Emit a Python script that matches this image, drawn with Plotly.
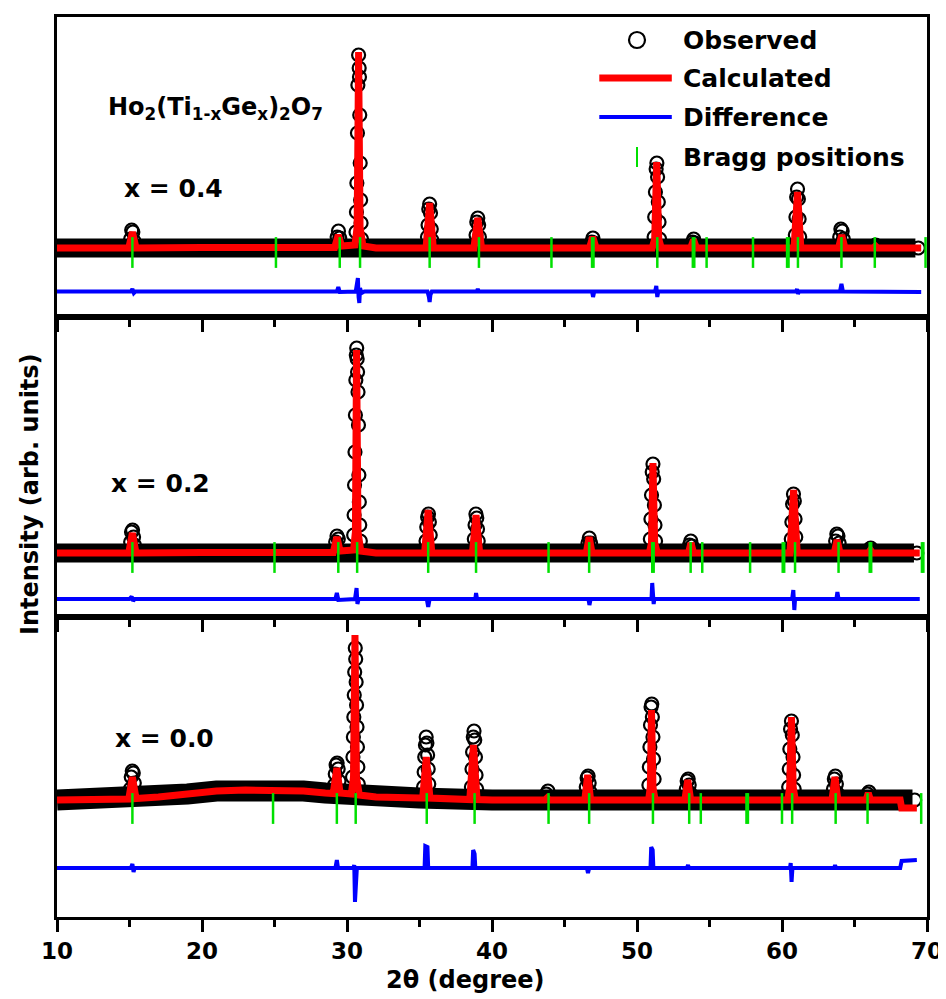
import plotly.graph_objects as go
from plotly.subplots import make_subplots

FONT = "DejaVu Sans"
SAMPLE_LABELS = ["x = 0.4", "x = 0.2", "x = 0.0"]
FORMULA = "Ho<sub>2</sub>(Ti<sub>1-x</sub>Ge<sub>x</sub>)<sub>2</sub>O<sub>7</sub>"
X_TICKS = [10, 20, 30, 40, 50, 60, 70]

# ---------------- x = 0.4 (top panel) ----------------
BG_X_04 = [10, 20, 25, 29, 32, 40, 50, 60, 69.2]
BG_Y_04 = [69, 69.5, 70, 69.5, 69, 69, 69, 69, 69]
OBS_X_04 = [15.08, 15.15, 15.23, 15.31,
            29.32, 29.41, 29.50,
            30.62, 30.65, 30.68, 30.72, 30.75, 30.80, 30.84, 30.86, 30.88, 30.91, 30.94, 30.97, 31.00,
            35.55, 35.59, 35.64, 35.70, 35.76, 35.81, 35.85,
            38.90, 38.95, 39.02, 39.08, 39.13,
            46.88, 46.96, 47.05,
            51.18, 51.22, 51.27, 51.32, 51.37, 51.42, 51.47, 51.52, 51.56,
            53.83, 53.91, 53.99,
            60.92, 60.96, 61.01, 61.07, 61.13, 61.18, 61.22,
            63.98, 64.06, 64.15, 64.23,
            66.45,
            69.40]
OBS_Y_04 = [78, 87, 85, 76,
            80, 86, 79,
            85, 105, 134, 184, 232, 262, 249, 240, 202, 154, 117, 94, 78,
            80, 92, 108, 113, 104, 88, 77,
            82, 95, 99, 92, 80,
            75, 79, 74,
            80, 100, 125, 148, 154, 140, 115, 95, 78,
            75, 78, 74,
            82, 100, 120, 128, 118, 98, 80,
            80, 88, 86, 78,
            72,
            69]
CALC_X_04 = [10, 14.95, 15.2, 15.45, 20, 25, 29.15, 29.4, 29.62, 30.55, 30.7, 30.8, 30.9, 31.1, 32,
             35.45, 35.7, 35.95, 38.75, 39.02, 39.28, 46.72, 46.95, 47.18,
             51.05, 51.22, 51.36, 51.5, 51.67, 53.7, 53.9, 54.1,
             60.83, 61.07, 61.3, 63.9, 64.12, 64.34, 66.3, 66.45, 66.6, 69.6]
CALC_Y_04 = [69, 69, 85, 69, 69.5, 70, 69.5, 82, 71, 72, 90, 265, 90, 71, 69,
             69, 114, 69, 69, 99, 69, 69, 80, 69,
             69, 78, 155, 78, 69, 69, 77, 69,
             69, 125, 69, 69, 82, 69, 69, 71, 69, 69]
DIFF_X_04 = [10, 15.1, 15.2, 15.3, 15.4, 29.3, 29.4, 29.5, 30.6, 30.7, 30.75, 30.8, 30.85, 30.9, 31.0, 31.2,
             35.55, 35.65, 35.7, 35.75, 35.85, 38.95, 39.02, 39.1, 46.9, 46.97, 47.05,
             51.25, 51.33, 51.4, 51.47, 60.98, 61.04, 61.1, 61.16, 64.0, 64.1, 64.2, 69.6]
DIFF_Y_04 = [25.5, 25.5, 28, 24, 25.5, 25.5, 30, 25, 25.5, 33, 39, 20, 14, 29, 24, 25.5,
             25.5, 20, 15, 22, 25.5, 25.5, 28, 25.5, 25.5, 20, 25.5,
             25.5, 31, 20, 25.5, 25.5, 28, 23, 25.5, 25.5, 33, 25.5, 25]
BRAGG_04 = [15.2, 25.1, 29.5, 30.9, 35.7, 39.1, 44.1, 46.9, 47.0, 51.4, 53.85, 53.95, 54.8,
            58.0, 60.35, 60.45, 61.1, 64.1, 66.4, 69.9]

# ---------------- x = 0.2 (middle panel) ----------------
BG_X_02 = [10, 20, 25, 29, 32, 40, 50, 60, 69.1]
BG_Y_02 = [64, 64.5, 65, 64.5, 64, 64, 64, 64, 64]
OBS_X_02 = [15.08, 15.14, 15.21, 15.28, 15.34,
            29.22, 29.31, 29.40,
            30.46, 30.49, 30.52, 30.55, 30.58, 30.61, 30.64, 30.67, 30.70, 30.73, 30.76, 30.79,
            30.82, 30.85, 30.88, 30.92,
            35.45, 35.50, 35.56, 35.62, 35.68, 35.74,
            38.78, 38.83, 38.89, 38.95, 39.00, 39.05,
            46.62, 46.71, 46.80,
            50.92, 50.96, 51.00, 51.05, 51.10, 51.15, 51.20, 51.24, 51.28,
            53.62, 53.71, 53.80,
            60.64, 60.68, 60.73, 60.79, 60.85, 60.90, 60.95,
            63.70, 63.78, 63.86, 63.94,
            66.05, 66.12,
            69.30]
OBS_Y_02 = [75, 85, 87, 80, 72,
            75, 81, 78,
            82, 102, 132, 165, 202, 237, 262, 269, 258, 245, 225, 192,
            142, 115, 92, 76,
            76, 90, 100, 103, 95, 82,
            78, 92, 103, 99, 88, 76,
            74, 79, 74,
            78, 98, 122, 145, 153, 138, 112, 92, 76,
            72, 76, 71,
            78, 95, 113, 123, 116, 98, 80,
            76, 83, 81, 74,
            68, 69,
            64]
CALC_X_02 = [10, 14.95, 15.2, 15.45, 20, 25, 29.05, 29.3, 29.52, 30.45, 30.58, 30.66, 30.76, 30.95, 32,
             35.35, 35.6, 35.85, 38.65, 38.9, 39.15, 46.5, 46.7, 46.9,
             50.85, 51.0, 51.1, 51.22, 51.4, 53.55, 53.72, 53.9,
             60.55, 60.8, 61.05, 63.6, 63.8, 64.0, 65.95, 66.1, 66.25, 69.5]
CALC_Y_02 = [64, 64, 84, 64, 64.5, 65, 64.5, 80, 66, 67, 85, 267, 85, 66, 64,
             64, 107, 64, 64, 102, 64, 64, 80, 64,
             64, 74, 154, 74, 64, 64, 74, 64,
             64, 127, 64, 64, 77, 64, 64, 67, 64, 64]
DIFF_X_02 = [10, 15.0, 15.15, 15.25, 15.35, 29.2, 29.3, 29.4, 30.55, 30.62, 30.66, 30.72, 30.8,
             35.5, 35.6, 35.7, 38.85, 38.9, 38.97, 46.65, 46.72, 46.8,
             51.0, 51.05, 51.1, 51.15, 51.2, 60.7, 60.78, 60.85, 60.9, 63.75, 63.82, 63.9, 69.5]
DIFF_Y_02 = [18, 18, 20.5, 16, 18, 18, 24, 17, 18, 27, 29, 13, 18,
             18, 10, 18, 18, 24, 18, 18, 12, 18,
             18, 34, 22, 13, 18, 18, 27, 7, 18, 18, 25, 18, 18]
BRAGG_02 = [15.2, 25.0, 29.4, 30.7, 35.6, 38.9, 43.9, 46.7, 51.05, 51.15, 53.7, 54.5, 57.8,
            60.05, 60.15, 60.9, 63.9, 66.05, 66.15, 69.65, 69.75]

# ---------------- x = 0.0 (bottom panel) ----------------
BG_X_00 = [10, 12, 15, 17, 19, 21, 23, 25, 27, 28.5, 30, 32, 35, 40, 50, 60, 68.1, 69.0]
BG_Y_00 = [117, 117.5, 118, 120, 123, 126, 127, 127, 126, 124, 122, 120, 119, 117, 117, 117, 117, 117]
OBS_X_00 = [15.06, 15.12, 15.19, 15.26, 15.33, 15.39,
            29.14, 29.19, 29.25, 29.32, 29.39, 29.45,
            30.38, 30.41, 30.44, 30.47, 30.50, 30.53, 30.57, 30.60, 30.63, 30.66, 30.69, 30.72, 30.75, 30.78,
            35.28, 35.32, 35.36, 35.41, 35.46, 35.51, 35.56, 35.60, 35.64,
            38.58, 38.62, 38.66, 38.71, 38.76, 38.81, 38.86, 38.90, 38.94,
            43.74, 43.86,
            46.50, 46.56, 46.63, 46.70, 46.76,
            50.82, 50.85, 50.89, 50.93, 50.97, 51.02, 51.06, 51.10, 51.14, 51.18,
            53.40, 53.46, 53.53, 53.60, 53.66,
            60.46, 60.50, 60.54, 60.59, 60.65, 60.71, 60.76, 60.80, 60.84,
            63.55, 63.61, 63.68, 63.75, 63.80,
            65.90, 66.00,
            69.15]
OBS_Y_00 = [128, 140, 146, 144, 134, 124,
            132, 143, 152, 154, 148, 136,
            140, 160, 180, 200, 222, 245, 269, 258, 235, 212, 190, 170, 150, 133,
            130, 145, 160, 172, 180, 174, 162, 148, 133,
            130, 148, 165, 180, 186, 177, 160, 142, 128,
            123, 126,
            130, 139, 141, 134, 125,
            132, 150, 170, 192, 210, 213, 200, 180, 158, 138,
            128, 136, 138, 132, 124,
            130, 148, 168, 188, 196, 182, 160, 142, 128,
            128, 138, 141, 133, 124,
            123, 125,
            117]
CALC_X_00 = [10, 12, 14.95, 15.2, 15.45, 17, 19, 21, 23, 25, 27, 28.5, 29.05, 29.3, 29.52,
             30.3, 30.45, 30.55, 30.65, 30.85, 32, 35, 35.22, 35.47, 35.72, 38.47, 38.72, 38.97, 40,
             43.65, 43.8, 43.95, 46.4, 46.6, 46.8, 50.8, 50.92, 51.0, 51.1, 51.25,
             53.3, 53.5, 53.7, 60.4, 60.53, 60.65, 60.77, 60.92, 63.45, 63.65, 63.85,
             65.8, 65.95, 66.1, 68.15, 68.25, 69.3]
CALC_Y_00 = [117, 117.5, 118, 140, 118.5, 120, 123, 126, 127, 127, 126, 124, 123.5, 149, 124,
             123, 140, 282, 140, 122, 120, 119, 119, 160, 119, 117.5, 172, 117.5, 117,
             117, 119, 117, 117, 142, 117, 117, 130, 207, 130, 117,
             117, 137, 117, 117, 130, 200, 130, 117, 117, 140, 117,
             117, 124, 117, 117, 109, 109]
DIFF_X_00 = [10, 15.1, 15.2, 15.28, 15.35, 29.2, 29.3, 29.38, 30.45, 30.5, 30.55, 30.62, 30.68,
             35.35, 35.4, 35.55, 35.6, 38.65, 38.7, 38.8, 38.85, 46.55, 46.62, 46.7,
             50.93, 50.98, 51.08, 51.13, 53.45, 53.52, 53.58, 60.55, 60.6, 60.66, 60.72,
             63.6, 63.66, 63.72, 68.15, 68.25, 69.3]
DIFF_Y_00 = [49, 49, 53, 45, 49, 49, 57, 49, 49, 52, 15, 30, 49,
             49, 71, 70, 49, 49, 67, 63, 49, 49, 44, 49,
             49, 70, 67, 49, 49, 52, 49, 49, 54, 35, 49,
             49, 52, 49, 49, 56, 57]
BRAGG_00 = [15.2, 24.9, 29.3, 30.6, 35.5, 38.8, 43.9, 46.7, 51.1, 53.6, 54.4, 57.55, 57.65,
            60.0, 60.7, 63.7, 65.9, 69.6]

# ---------------- styling ----------------
RED = "#FF0000"
BLUE = "#0000FF"
GREEN = "#00E000"
BLACK = "#000000"
BRAGG_LEVEL = [64.5, 59.5, 108.5]
BAND_WIDTH = [19, 19, 21]
LABEL_POS = [(14.45, 129), (13.62, 134), (13.83, 179)]

panels = [
    (BG_X_04, BG_Y_04, OBS_X_04, OBS_Y_04, CALC_X_04, CALC_Y_04, DIFF_X_04, DIFF_Y_04, BRAGG_04),
    (BG_X_02, BG_Y_02, OBS_X_02, OBS_Y_02, CALC_X_02, CALC_Y_02, DIFF_X_02, DIFF_Y_02, BRAGG_02),
    (BG_X_00, BG_Y_00, OBS_X_00, OBS_Y_00, CALC_X_00, CALC_Y_00, DIFF_X_00, DIFF_Y_00, BRAGG_00),
]

fig = make_subplots(rows=3, cols=1, shared_xaxes=True, vertical_spacing=0)

for i, (bgx, bgy, ox, oy, cx, cy, dx, dy, bragg) in enumerate(panels):
    row = i + 1
    # observed: dense band of overlapping points along the background
    fig.add_trace(go.Scatter(x=bgx, y=bgy, mode="lines",
                             line=dict(color=BLACK, width=BAND_WIDTH[i]),
                             hoverinfo="skip", showlegend=False), row=row, col=1)
    fig.add_trace(go.Scatter(x=ox, y=oy, mode="markers", name="Observed",
                             marker=dict(symbol="circle-open", size=13, color=BLACK,
                                         line=dict(width=2.2, color=BLACK)),
                             showlegend=False), row=row, col=1)
    fig.add_trace(go.Scatter(x=cx, y=cy, mode="lines", name="Calculated",
                             line=dict(color=RED, width=7),
                             showlegend=False), row=row, col=1)
    fig.add_trace(go.Scatter(x=dx, y=dy, mode="lines", name="Difference",
                             line=dict(color=BLUE, width=4),
                             showlegend=False), row=row, col=1)
    fig.add_trace(go.Scatter(x=bragg, y=[BRAGG_LEVEL[i]] * len(bragg), mode="markers",
                             name="Bragg positions",
                             marker=dict(symbol="line-ns", size=22, color=GREEN,
                                         line=dict(width=2.5, color=GREEN)),
                             showlegend=False), row=row, col=1)

# legend drawn inside the top panel
fig.add_trace(go.Scatter(x=[50.0], y=[277], mode="markers",
                         marker=dict(symbol="circle-open", size=16, color=BLACK,
                                     line=dict(width=2.2, color=BLACK)),
                         hoverinfo="skip", showlegend=False), row=1, col=1)
fig.add_shape(type="line", x0=47.4, x1=52.4, y0=239, y1=239, xref="x", yref="y",
              line=dict(color=RED, width=7))
fig.add_shape(type="line", x0=47.4, x1=52.4, y0=200, y1=200, xref="x", yref="y",
              line=dict(color=BLUE, width=4))
fig.add_shape(type="line", x0=50.0, x1=50.0, y0=150, y1=170, xref="x", yref="y",
              line=dict(color=GREEN, width=2))
for txt, yy in zip(["Observed", "Calculated", "Difference", "Bragg positions"], [277, 239, 200, 160]):
    fig.add_annotation(x=53.0, y=yy, xref="x", yref="y", text=txt, showarrow=False,
                       xanchor="left", yanchor="middle",
                       font=dict(family=FONT, size=25, color=BLACK, weight="bold"))

# formula and sample labels
fig.add_annotation(x=13.4, y=209, xref="x", yref="y", text=FORMULA, showarrow=False,
                   xanchor="left", yanchor="middle",
                   font=dict(family=FONT, size=24, color=BLACK, weight="bold"))
yrefs = ["y", "y2", "y3"]
for i, lab in enumerate(SAMPLE_LABELS):
    fig.add_annotation(x=LABEL_POS[i][0], y=LABEL_POS[i][1], xref="x", yref=yrefs[i], text=lab,
                       showarrow=False, xanchor="left", yanchor="middle",
                       font=dict(family=FONT, size=25, color=BLACK, weight="bold"))

# axis titles
fig.add_annotation(x=-0.031, y=0.47, xref="paper", yref="paper", text="Intensity (arb. units)",
                   textangle=-90, showarrow=False, xanchor="center", yanchor="middle",
                   font=dict(family=FONT, size=24, color=BLACK, weight="bold"))
fig.add_annotation(x=0.47, y=-0.07, xref="paper", yref="paper", text="2θ (degree)",
                   showarrow=False, xanchor="center", yanchor="middle",
                   font=dict(family=FONT, size=24, color=BLACK, weight="bold"))

fig.update_xaxes(range=[10, 70], tickvals=X_TICKS, ticks="outside", ticklen=12, tickwidth=2.5,
                 tickcolor=BLACK, showline=True, linecolor=BLACK, linewidth=2.5, mirror=True,
                 showgrid=False, zeroline=False,
                 minor=dict(ticks="outside", ticklen=7, tickwidth=2.5, tickcolor=BLACK,
                            tickvals=[15, 25, 35, 45, 55, 65], showgrid=False),
                 tickfont=dict(family=FONT, size=23, color=BLACK, weight="bold"))
fig.update_xaxes(showticklabels=False, row=1, col=1)
fig.update_xaxes(showticklabels=False, row=2, col=1)
fig.update_xaxes(showticklabels=True, row=3, col=1)
fig.update_yaxes(range=[0, 300], showticklabels=False, ticks="", showgrid=False, zeroline=False,
                 showline=True, linecolor=BLACK, linewidth=2.5, mirror=True)

# the page body adds an 8 px offset, so the figure is sized 8 px smaller
fig.update_layout(width=938, height=991,
                  margin=dict(l=49, r=19, t=9, b=82, autoexpand=False),
                  plot_bgcolor="white", paper_bgcolor="white", showlegend=False,
                  font=dict(family=FONT, color=BLACK))

fig.write_html("out.html")
